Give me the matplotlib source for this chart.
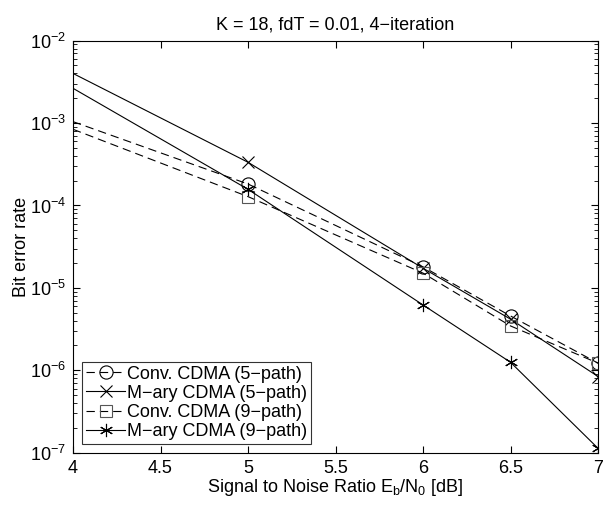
import matplotlib
matplotlib.use('Agg')
import matplotlib.pyplot as plt
from matplotlib import ticker

plt.rcParams['font.family'] = ['Liberation Sans', 'DejaVu Sans']
plt.rcParams['mathtext.fontset'] = 'custom'
plt.rcParams['mathtext.rm'] = 'Liberation Sans'
plt.rcParams['mathtext.it'] = 'Liberation Sans'

# data

snr_db = [4.0, 5.0, 6.0, 6.5, 7.0]

conv_5path = [1.04e-3, 1.82e-4, 1.80e-5, 4.56e-6, 1.22e-6]
mary_5path = [4.00e-3, 3.34e-4, 1.73e-5, 4.17e-6, 8.4e-7]
conv_9path = [8.4e-4, 1.28e-4, 1.51e-5, 3.45e-6, 1.22e-6]
mary_9path = [2.64e-3, 1.57e-4, 6.2e-6, 1.25e-6, 1.13e-7]

labels = ['Conv. CDMA (5\u2212path)',
          'M\u2212ary CDMA (5\u2212path)',
          'Conv. CDMA (9\u2212path)',
          'M\u2212ary CDMA (9\u2212path)']

# plot

fig = plt.figure(figsize=(6.05, 5.08), dpi=100)
ax = fig.add_axes([0.1207, 0.1089, 0.8678, 0.8111])

marks = list(range(1, len(snr_db)))
style = dict(color='black', linewidth=0.8, markevery=marks, markerfacecolor='none',
             markeredgewidth=0.8)
dash = (7.5, 4.5)

ax.plot(snr_db, conv_5path, '--', dashes=dash, marker='o', markersize=9.5,
        label=labels[0], **style)
ax.plot(snr_db, mary_5path, '-', marker='x', markersize=8.5, label=labels[1], **style)
ax.plot(snr_db, conv_9path, '--', dashes=dash, marker='s', markersize=8,
        markeredgecolor='#555555', label=labels[2], **style)
ax.plot(snr_db, mary_9path, '-', marker=(6, 2, 0), markersize=9.5, label=labels[3], **style)

ax.set_yscale('log')
ax.set_xlim(4, 7)
ax.set_ylim(1e-7, 1e-2)
ax.set_xticks([4, 4.5, 5, 5.5, 6, 6.5, 7])
ax.xaxis.set_major_formatter(ticker.FuncFormatter(lambda v, p: f'{v:g}'))
ax.yaxis.set_major_locator(ticker.LogLocator(base=10, numticks=10))
ax.yaxis.set_minor_locator(ticker.LogLocator(base=10, subs=range(2, 10), numticks=10))
ax.yaxis.set_minor_formatter(ticker.NullFormatter())

ax.tick_params(which='both', direction='in', top=True, right=True, labelsize=13)
ax.tick_params(which='major', length=5, width=0.8, pad=5)
ax.tick_params(which='minor', length=3, width=0.6)
for sp in ax.spines.values():
    sp.set_linewidth(0.8)

ax.set_title('K = 18, fdT = 0.01, 4\u2212iteration', fontsize=13, pad=8)
ax.set_xlabel('Signal to Noise Ratio E$_\\mathregular{b}$/N$_\\mathregular{0}$ [dB]',
              fontsize=13, labelpad=0)
ax.set_ylabel('Bit error rate', fontsize=13, labelpad=0)

leg = ax.legend(loc='lower left', fontsize=13, frameon=True, fancybox=False,
                edgecolor='black', handlelength=2.2, handletextpad=0.1,
                borderpad=0.2, labelspacing=0.12, borderaxespad=0.5)
leg.get_frame().set_linewidth(0.8)

fig.savefig('out.png', dpi=100)
